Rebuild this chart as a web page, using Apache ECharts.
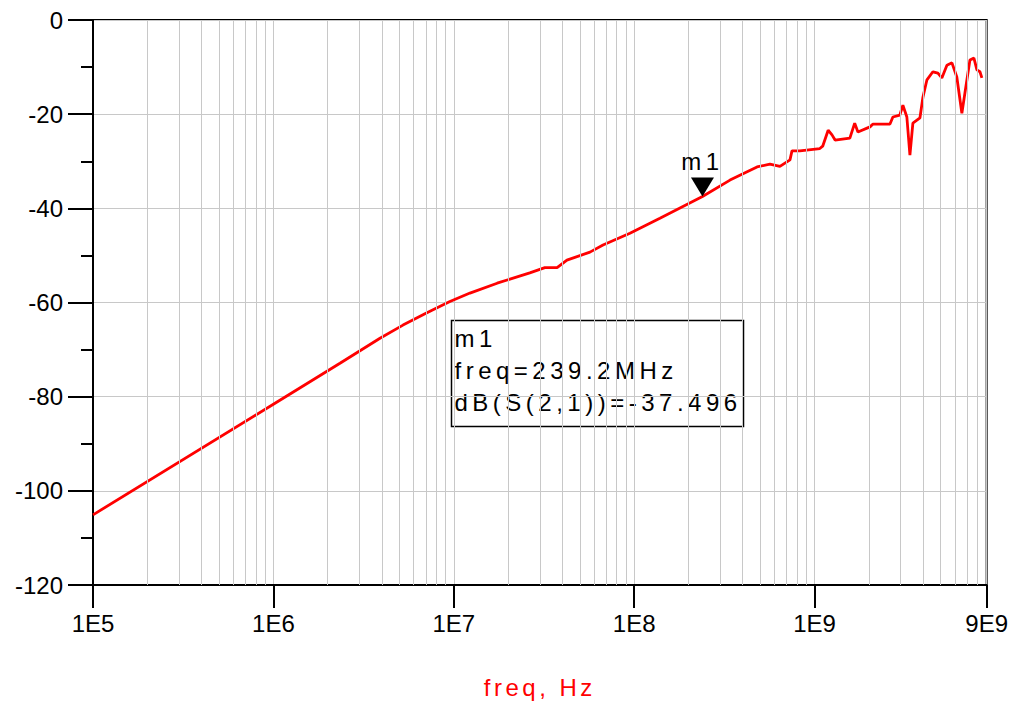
<!DOCTYPE html>
<html>
<head>
<meta charset="utf-8">
<script src="https://cdn.jsdelivr.net/npm/echarts@6/dist/echarts.min.js"></script>
<style>
html, body { margin: 0; padding: 0; background: #ffffff; }
#chart { width: 1011px; height: 706px; }
#chart text[style*="Arial"], #chart text[font-family*="Arial"] { letter-spacing: 4.5px; }
#chart text[style*="sans-serif"], #chart text[font-family*="sans-serif"] { letter-spacing: 3.5px; }
</style>
</head>
<body>
<div id="chart"></div>
<script>
// ---- data ----
const freqHz = [
  1e5, 1e6, 2.34e6, 3.9e6, 5.23e6, 7.1e6, 9.52e6, 1.23e7, 1.74e7, 2.64e7,
  3.2e7, 3.74e7, 4.24e7, 5.69e7, 6.72e7, 9.48e7, 1.39e8, 2.392e8, 3.4e8, 4.8e8,
  5.66e8, 6.43e8, 7.31e8, 7.5e8, 8.3e8, 1.07e9, 1.11e9, 1.19e9, 1.25e9, 1.3e9,
  1.57e9, 1.67e9, 1.74e9, 2.03e9, 2.11e9, 2.62e9, 2.72e9, 2.97e9, 3.09e9, 3.25e9,
  3.38e9, 3.51e9, 3.84e9, 3.99e9, 4.2e9, 4.53e9, 4.83e9, 5.08e9, 5.42e9, 5.78e9,
  6.15e9, 6.56e9, 6.82e9, 7.27e9, 7.65e9, 7.95e9, 8.26e9, 8.47e9
];
const s21dB = [
  -105.1, -81.6, -72.9, -67.6, -64.8, -62.2, -59.8, -58.0, -55.9, -53.7,
  -52.6, -52.6, -51.0, -49.3, -47.8, -45.3, -42.1, -37.496, -34.0, -31.2,
  -30.6, -31.1, -29.7, -27.8, -27.8, -27.3, -26.8, -23.4, -24.4, -25.5,
  -25.1, -21.9, -23.8, -22.7, -22.1, -22.1, -20.6, -20.2, -18.1, -20.6,
  -28.7, -21.9, -20.8, -16.4, -12.7, -11.0, -11.3, -12.3, -9.6, -9.1,
  -12.1, -19.8, -15.5, -8.5, -8.1, -10.6, -11.0, -12.3
];
const markerName = 'm1';
const markerFreq = 239.2e6;
const markerDb = -37.496;
const markerLines = ['m1', 'freq=239.2MHz', 'dB(S(2,1))=-37.496'];
const xMin = 1e5, xMax = 9e9;
const yMin = -120, yMax = 0, yStep = 20;
const decades = [1e5, 1e6, 1e7, 1e8, 1e9];
const minorMultipliers = [2, 3, 4, 5, 6, 7, 8, 9];

// minor log grid positions (2..9 of each decade)
const minorGrid = [];
decades.forEach(d => minorMultipliers.forEach(m => { if (d * m < xMax) minorGrid.push(d * m); }));

const chart = echarts.init(document.getElementById('chart'), null, { renderer: 'svg' });

function expLabel(v) {
  const e = Math.floor(Math.log10(v) + 1e-9);
  const m = Math.round(v / Math.pow(10, e));
  return m + 'E' + e;
}

const tickFont = 'Liberation Sans';
const option = {
  animation: false,
  backgroundColor: '#ffffff',
  grid: { left: 93, top: 20, right: 24, bottom: 121, show: true, borderColor: '#000', borderWidth: 2, backgroundColor: 'transparent' },
  xAxis: {
    type: 'log', logBase: 10, min: xMin, max: xMax,
    axisLine: { show: true, onZero: false, lineStyle: { color: '#000', width: 2 } },
    axisTick: { show: true, length: 23, lineStyle: { color: '#000', width: 2 } },
    axisLabel: { margin: 26, fontSize: 24, fontFamily: tickFont, color: '#000', formatter: expLabel, showMaxLabel: true, showMinLabel: true },
    splitLine: { show: true, lineStyle: { color: '#c8c8c8', width: 1 } },
    name: 'freq, Hz', nameLocation: 'middle', nameGap: 90,
    nameTextStyle: { color: '#ff0000', fontSize: 24, fontFamily: 'Liberation Sans, sans-serif' }
  },
  yAxis: {
    type: 'value', min: yMin, max: yMax, interval: yStep,
    axisLine: { show: true, onZero: false, lineStyle: { color: '#000', width: 2 } },
    axisTick: { show: true, length: 25, lineStyle: { color: '#000', width: 2 } },
    minorTick: { show: true, splitNumber: 2, length: 12, lineStyle: { color: '#000', width: 2 } },
    axisLabel: { margin: 30, fontSize: 24, fontFamily: tickFont, color: '#000' },
    splitLine: { show: true, lineStyle: { color: '#c8c8c8', width: 1 } }
  },
  series: [
    {
      type: 'line', data: [], z: 1, silent: true,
      markLine: {
        silent: true, symbol: ['none', 'none'], label: { show: false },
        emphasis: { disabled: true },
        lineStyle: { color: '#c8c8c8', width: 1, type: 'solid' },
        data: minorGrid.map(v => ({ xAxis: v }))
      }
    },
    {
      type: 'line', z: 3,
      data: freqHz.map((f, i) => [f, s21dB[i]]),
      showSymbol: false, symbol: 'none',
      lineStyle: { color: '#ff0000', width: 2.8 },
      markPoint: {
        symbol: 'path://M0,0 L23,0 L11.5,19 Z',
        symbolSize: [23, 19],
        symbolOffset: [0, -9.5],
        itemStyle: { color: '#000' },
        label: { show: true, position: 'top', distance: 4, formatter: markerName, color: '#000', fontSize: 24, fontFamily: 'Arial' },
        data: [{ coord: [markerFreq, markerDb] }]
      }
    }
  ],
  graphic: [
    {
      type: 'group', left: 449, top: 318,
      children: [
        { type: 'rect', shape: { x: 0, y: 0, width: 292, height: 106 }, style: { fill: 'none', stroke: '#000', lineWidth: 1.5 } },
        { type: 'text', x: 3, y: 18, style: { text: markerLines[0], fontSize: 24, fontFamily: 'Arial', fill: '#000', verticalAlign: 'middle' } },
        { type: 'text', x: 3, y: 50, style: { text: markerLines[1], fontSize: 24, fontFamily: 'Arial', fill: '#000', verticalAlign: 'middle' } },
        { type: 'text', x: 3, y: 82, style: { text: markerLines[2], fontSize: 24, fontFamily: 'Arial', fill: '#000', verticalAlign: 'middle' } }
      ]
    }
  ]
};
chart.setOption(option);
</script>
</body>
</html>
